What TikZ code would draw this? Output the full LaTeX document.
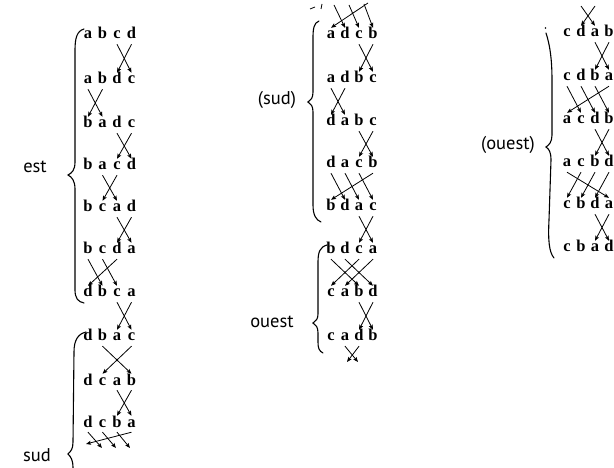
\documentclass[tikz,border=0pt]{standalone}
\usepackage{fontspec}
\setmainfont{Liberation Serif}
\newfontfamily\labfont{PT Sans}
\usetikzlibrary{arrows.meta}

\newcommand\lrow[9]{%
  \node[lett] (#1#2-1) at (#4,#3) {#6};
  \node[lett] (#1#2-2) at (#4+#5,#3) {#7};
  \node[lett] (#1#2-3) at (#4+2*#5,#3) {#8};
  \node[lett] (#1#2-4) at (#4+3*#5,#3) {#9};}
\newcommand\mvto[2]{\draw[mv] ([yshift=-5pt]#1.south) -- ([yshift=3pt]#2.north);}
\newcommand\swp[4]{\mvto{#1-#3}{#2-#4}\mvto{#1-#4}{#2-#3}}

\begin{document}
\begin{tikzpicture}[x=1pt,y=-1pt,
  lett/.style={font=\fontsize{16.5}{16.5}\selectfont\bfseries, inner sep=0pt, text height=8pt, text depth=0pt, anchor=center},
  mv/.style={-{Stealth[length=5pt,width=4pt,inset=1pt]}, line width=0.8pt},
  bracestyle/.style={line width=1.1pt, line cap=round},
  lbl/.style={font=\labfont\fontsize{18.5}{18.5}\selectfont, inner sep=0pt}]
\useasboundingbox (0,0) rectangle (614,468);

% ---------- left column ----------
\lrow{A}{1}{35}{88}{14.5}{a}{b}{c}{d}
\lrow{A}{2}{80}{88}{14.5}{a}{b}{d}{c}
\lrow{A}{3}{124}{88}{14.5}{b}{a}{d}{c}
\lrow{A}{4}{166}{88}{14.5}{b}{a}{c}{d}
\lrow{A}{5}{208}{88}{14.5}{b}{c}{a}{d}
\lrow{A}{6}{250}{88}{14.5}{b}{c}{d}{a}
\lrow{A}{7}{293}{88}{14.5}{d}{b}{c}{a}
\lrow{A}{8}{337}{88}{14.5}{d}{b}{a}{c}
\lrow{A}{9}{381}{88}{14.5}{d}{c}{a}{b}
\lrow{A}{10}{423}{88}{14.5}{d}{c}{b}{a}

\swp{A1}{A2}{3}{4}
\swp{A2}{A3}{1}{2}
\swp{A3}{A4}{3}{4}
\swp{A4}{A5}{2}{3}
\swp{A5}{A6}{3}{4}
\mvto{A6-1}{A7-2}\mvto{A6-2}{A7-3}\mvto{A6-3}{A7-1}
\swp{A7}{A8}{3}{4}
\swp{A8}{A9}{2}{4}
\swp{A9}{A10}{3}{4}
\coordinate (l1) at (86,444);
\coordinate (l2) at (102,448);
\coordinate (l3) at (116,448);
\coordinate (l4) at (130,448);
\draw[mv] ([yshift=-5pt]A10-4.south) -- (l1);
\draw[mv] ([yshift=-5pt]A10-1.south) -- (l2);
\draw[mv] ([yshift=-5pt]A10-2.south) -- (l3);
\draw[mv] ([yshift=-5pt]A10-3.south) -- (l4);

% ---------- middle column ----------
\lrow{B}{1}{35}{331}{14}{a}{d}{c}{b}
\lrow{B}{2}{79}{331}{14}{a}{d}{b}{c}
\lrow{B}{3}{122}{331}{14}{d}{a}{b}{c}
\lrow{B}{4}{164}{331}{14}{d}{a}{c}{b}
\lrow{B}{5}{207}{331}{14}{b}{d}{a}{c}
\lrow{B}{6}{250}{331}{14}{b}{d}{c}{a}
\lrow{B}{7}{293}{331}{14}{c}{a}{b}{d}
\lrow{B}{8}{337}{331}{14}{c}{a}{d}{b}

\coordinate (m0) at (368,3);
\coordinate (m1) at (334,5);
\coordinate (m2) at (349,5);
\coordinate (m3) at (364,4);
\draw[mv] (m0) -- ([yshift=3pt]B1-1.north);
\draw[mv] (m1) -- ([yshift=3pt]B1-2.north);
\draw[mv] (m2) -- ([yshift=3pt]B1-3.north);
\draw[mv] (m3) -- ([yshift=3pt]B1-4.north);
\swp{B1}{B2}{3}{4}
\swp{B2}{B3}{1}{2}
\swp{B3}{B4}{3}{4}
\mvto{B4-4}{B5-1}\mvto{B4-1}{B5-2}\mvto{B4-2}{B5-3}\mvto{B4-3}{B5-4}
\swp{B5}{B6}{3}{4}
\mvto{B6-1}{B7-3}\mvto{B6-2}{B7-4}\mvto{B6-3}{B7-1}\mvto{B6-4}{B7-2}
\swp{B7}{B8}{3}{4}
\coordinate (mb2) at (347,362);
\coordinate (mb3) at (358,362);
\draw[mv] ([yshift=-5pt]B8-2.south) -- (mb3);
\draw[mv] ([yshift=-5pt]B8-3.south) -- (mb2);

% ---------- right column ----------
\lrow{C}{1}{33}{567}{14}{c}{d}{a}{b}
\lrow{C}{2}{77}{567}{14}{c}{d}{b}{a}
\lrow{C}{3}{120}{567}{14}{a}{c}{d}{b}
\lrow{C}{4}{163}{567}{14}{a}{c}{b}{d}
\lrow{C}{5}{205}{567}{14}{c}{b}{d}{a}
\lrow{C}{6}{248}{567}{14}{c}{b}{a}{d}

\coordinate (r2) at (581,6);
\coordinate (r3) at (595,6);
\draw[mv] (r2) -- ([yshift=3pt]C1-3.north);
\draw[mv] (r3) -- ([yshift=3pt]C1-2.north);
\swp{C1}{C2}{3}{4}
\mvto{C2-4}{C3-1}\mvto{C2-1}{C3-2}\mvto{C2-2}{C3-3}\mvto{C2-3}{C3-4}
\swp{C3}{C4}{3}{4}
\mvto{C4-1}{C5-4}\mvto{C4-2}{C5-1}\mvto{C4-3}{C5-2}\mvto{C4-4}{C5-3}
\swp{C5}{C6}{3}{4}

% ---------- braces ----------
\draw[bracestyle] (84,29) .. controls (77,31) and (75,38) .. (75,50) -- (75,162)
  .. controls (75,170) and (72,173) .. (68,175) .. controls (72,177) and (75,181) .. (75,189)
  -- (75,290) .. controls (75,298) and (78,302) .. (84,303);
\draw[bracestyle] (86,332) .. controls (78,334) and (74,340) .. (74,352) -- (73,442)
  .. controls (73,449) and (71,451) .. (68,454) .. controls (71,457) and (73,460) .. (73,468);

\draw[bracestyle] (319,21) .. controls (314,23) and (313,28) .. (313,38) -- (313,92)
  .. controls (313,98) and (311,100) .. (308,102) .. controls (311,104) and (313,106) .. (313,112)
  -- (313,205) .. controls (313,215) and (316,220) .. (321,222);
\draw[line width=0.8pt] (310,9) -- (315,7);
\draw[line width=0.8pt] (322,4) -- (321,9);

\draw[bracestyle] (327,245) .. controls (320,247) and (318,252) .. (318,262) -- (318,314)
  .. controls (318,319) and (316,321) .. (313,323) .. controls (316,325) and (318,327) .. (318,333)
  -- (318,342) .. controls (318,348) and (319,351) .. (323,353);

\fill (545.5,28) circle (0.9);
\draw[bracestyle] (546,33) .. controls (550,45) and (552,60) .. (552,80) -- (552,135)
  .. controls (552,142) and (549,145) .. (546,147) .. controls (549,149) and (551,152) .. (551,160)
  -- (549,220) .. controls (548,240) and (549,252) .. (554,258);

% ---------- labels ----------
\node[lbl] (est) at (35,167) {est};
\node[lbl] (sudA) at (37,455) {sud};
\node[lbl] (sudB) at (277,100) {(sud)};
\node[lbl] (ouestA) at (272,322) {ouest};
\node[lbl] (ouestB) at (508,145) {(ouest)};
\end{tikzpicture}
\end{document}
